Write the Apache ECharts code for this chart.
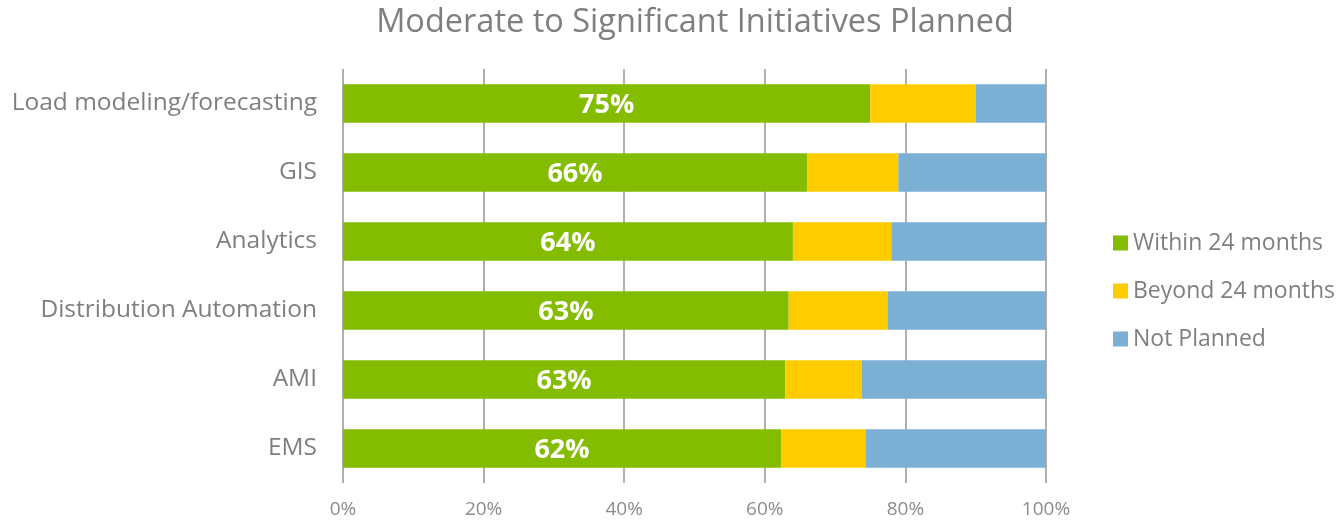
<!DOCTYPE html>
<html><head><meta charset="utf-8">
<script src="https://cdn.jsdelivr.net/npm/echarts@6/dist/echarts.min.js"></script>
<style>html,body{margin:0;padding:0;background:#fff}#c{width:1339px;height:521px}</style>
</head><body><div id="c"></div>
<script>
const categories = ['Load modeling/forecasting','GIS','Analytics','Distribution Automation','AMI','EMS'];
const within24 = [75, 66, 64, 63.4, 62.9, 62.3];
const beyond24 = [15, 13, 14, 14.1, 10.9, 12.1];
const notPlanned = [10, 21, 22, 22.5, 26.2, 25.6];
const xTicks = [0, 20, 40, 60, 80, 100];
const FONT = 'Open Sans';
const chart = echarts.init(document.getElementById('c'));
chart.setOption({
  animation: false,
  title: {text: 'Moderate to Significant Initiatives Planned', left: 690, textAlign: 'center', top: 1,
    textStyle: {fontFamily: FONT, fontSize: 32.5, fontWeight: 'normal', color: '#7f7f7f'}},
  legend: {orient: 'vertical', left: 1108, top: 224, itemGap: 20, itemWidth: 15, itemHeight: 15,
    icon: 'rect', textStyle: {fontFamily: FONT, fontSize: 23, color: '#7f7f7f', lineHeight: 28}},
  grid: {left: 343, right: 293, top: 69, bottom: 38, containLabel: false},
  xAxis: {type: 'value', min: 0, max: 100, interval: 20,
    axisLabel: {formatter: v => v + '%', fontFamily: FONT, fontSize: 19, color: '#8c8c8c', margin: 17},
    splitLine: {lineStyle: {color: '#b0b0b0', width: 2}}, axisLine: {show: false}, axisTick: {show: false}},
  yAxis: {type: 'category', data: categories, inverse: true,
    axisLabel: {fontFamily: FONT, fontSize: 24.5, color: '#7f7f7f', margin: 26, padding: [4, 0, 0, 0]},
    axisLine: {show: false}, axisTick: {show: false}},
  series: [
    {name: 'Within 24 months', type: 'bar', stack: 's', data: within24, barWidth: '56%',
      itemStyle: {color: '#84bd00'},
      label: {show: true, position: 'inside', offset: [0, 2], formatter: p => Math.round(p.value) + '%',
        fontFamily: FONT, fontSize: 27, fontWeight: 'bold', color: '#fff'}},
    {name: 'Beyond 24 months', type: 'bar', stack: 's', data: beyond24, itemStyle: {color: '#ffcc00'}},
    {name: 'Not Planned', type: 'bar', stack: 's', data: notPlanned, itemStyle: {color: '#7bafd4'}}
  ]
});
</script></body></html>
